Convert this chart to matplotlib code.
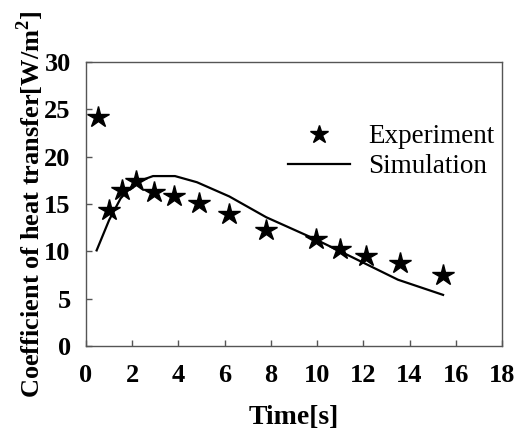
import matplotlib
matplotlib.use("Agg")
import matplotlib.pyplot as plt

exp_t = [0.5, 1.0, 1.55, 2.15, 2.95, 3.8, 4.9, 6.2, 7.8, 9.95, 11.0, 12.1, 13.6, 15.45]
exp_h = [24.2, 14.4, 16.5, 17.4, 16.3, 15.8, 15.1, 13.9, 12.3, 11.3, 10.2, 9.5, 8.8, 7.5]

sim_t = [0.46, 1.0, 1.5, 2.0, 2.5, 2.9, 3.85, 4.8, 6.2, 7.8, 9.9, 11.0, 12.0, 13.5, 15.45]
sim_h = [10.1, 13.3, 15.6, 16.9, 17.6, 17.95, 17.95, 17.3, 15.8, 13.6, 11.3, 10.0, 8.8, 7.0, 5.4]

xticks = list(range(0, 20, 2))
yticks = list(range(0, 35, 5))

plt.rcParams['font.family'] = ['Liberation Serif', 'DejaVu Serif']
plt.rcParams['mathtext.fontset'] = 'custom'
plt.rcParams['mathtext.rm'] = 'Liberation Serif'
plt.rcParams['mathtext.bf'] = 'Liberation Serif:bold'

fig = plt.figure(figsize=(5.22, 4.34), dpi=100)
ax = fig.add_axes([86/522, 1-346/434, (502-86)/522, (346-62)/434])

ax.plot(exp_t, exp_h, linestyle='none', marker='*', markersize=16, color='black',
        label='Experiment')
ax.plot(sim_t, sim_h, color='black', linewidth=1.6, label='Simulation')

ax.set_xlim(0, 18)
ax.set_ylim(0, 30)
ax.set_xticks(xticks)
ax.set_yticks(yticks)
ax.tick_params(direction='in', length=4, width=1, color='#555555', labelsize=19)
ax.tick_params(axis='x', pad=13)
ax.tick_params(axis='y', pad=11)
for lab in ax.get_xticklabels() + ax.get_yticklabels():
    lab.set_fontweight('bold')
for s in ax.spines.values():
    s.set_color('#555555')
    s.set_linewidth(1)

ax.set_xlabel('Time[s]', fontsize=20, fontweight='bold', labelpad=13)
ax.set_ylabel('Coefficient of heat transfer[W/m$^\\mathbf{2}$]', fontsize=19,
              fontweight='bold', labelpad=-1)

leg = ax.legend(loc='upper left', bbox_to_anchor=((288-86)/416, (346-124)/284),
                borderaxespad=0, borderpad=0, frameon=False, markerscale=0.85,
                fontsize=19.5, handlelength=2.3, handletextpad=0.65, labelspacing=0.2)

fig.savefig('out.png', dpi=100)
